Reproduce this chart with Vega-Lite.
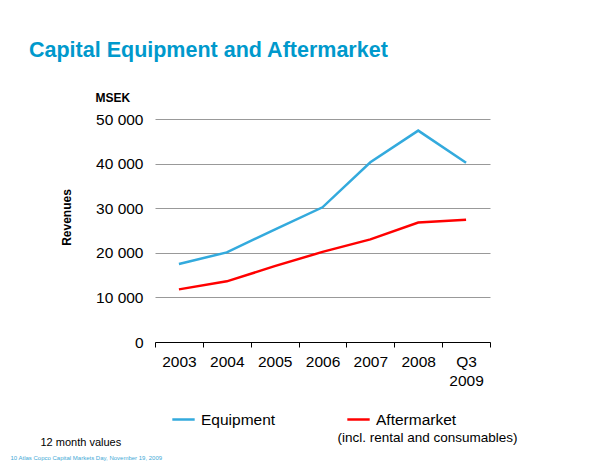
{
  "$schema": "https://vega.github.io/schema/vega-lite/v6.json",
  "width": 335,
  "height": 223,
  "autosize": {"type": "none"},
  "padding": {"left": 155, "top": 119, "right": 121, "bottom": 119},
  "background": "white",
  "title": {
    "text": "Capital Equipment and Aftermarket",
    "anchor": "start",
    "frame": "group",
    "dx": -126,
    "offset": 30,
    "font": "Liberation Sans",
    "fontSize": 21.5,
    "fontWeight": "bold",
    "color": "#0099CC"
  },
  "data": {
    "values": [
      {"period": "2003", "series": "Equipment", "value": 17500},
      {"period": "2004", "series": "Equipment", "value": 20100},
      {"period": "2005", "series": "Equipment", "value": 25200},
      {"period": "2006", "series": "Equipment", "value": 30200},
      {"period": "2007", "series": "Equipment", "value": 40300},
      {"period": "2008", "series": "Equipment", "value": 47400},
      {"period": "Q3 2009", "series": "Equipment", "value": 40200},
      {"period": "2003", "series": "Aftermarket", "value": 11800},
      {"period": "2004", "series": "Aftermarket", "value": 13600},
      {"period": "2005", "series": "Aftermarket", "value": 17000},
      {"period": "2006", "series": "Aftermarket", "value": 20200},
      {"period": "2007", "series": "Aftermarket", "value": 23000},
      {"period": "2008", "series": "Aftermarket", "value": 26800},
      {"period": "Q3 2009", "series": "Aftermarket", "value": 27400}
    ]
  },
  "layer": [
    {
      "mark": {"type": "line", "strokeWidth": 2.5},
      "encoding": {
        "x": {
          "field": "period",
          "type": "nominal",
          "sort": null,
          "axis": {
            "orient": "bottom",
            "labelAngle": 0,
            "labelExpr": "split(datum.label, ' ')",
            "labelFontSize": 15.5,
            "labelLineHeight": 19.5,
            "labelPadding": 7,
            "labelColor": "black",
            "domainColor": "black",
            "tickColor": "black",
            "tickSize": 5,
            "tickBand": "extent",
            "grid": false,
            "title": "12 month values",
            "titleFontSize": 11,
            "titleFontWeight": "normal",
            "titleAlign": "left",
            "titleBaseline": "alphabetic",
            "titleAnchor": null,
            "titleX": -115,
            "titleY": 103
          }
        },
        "y": {
          "field": "value",
          "type": "quantitative",
          "scale": {"domain": [0, 50000], "nice": false},
          "axis": {
            "orient": "left",
            "values": [0, 10000, 20000, 30000, 40000, 50000],
            "labelExpr": "replace(format(datum.value, ','), ',', ' ')",
            "labelFontSize": 15.5,
            "labelPadding": 12,
            "labelColor": "black",
            "domain": false,
            "ticks": false,
            "grid": true,
            "gridColor": "#999999",
            "gridWidth": 1,
            "title": "MSEK",
            "titleAngle": 0,
            "titleFontSize": 12,
            "titleFontWeight": "bold",
            "titleAlign": "left",
            "titleBaseline": "alphabetic",
            "titleAnchor": null,
            "titleX": -60,
            "titleY": -18
          }
        },
        "color": {
          "field": "series",
          "type": "nominal",
          "scale": {"domain": ["Equipment", "Aftermarket"], "range": ["#33AADD", "#FF0000"]},
          "legend": {
            "title": null,
            "orient": "none",
            "direction": "horizontal",
            "legendX": 16,
            "legendY": 288,
            "symbolType": "stroke",
            "symbolSize": 500,
            "symbolStrokeWidth": 2.5,
            "labelFontSize": 15.5,
            "labelColor": "black",
            "labelLimit": 300,
            "labelOffset": 5,
            "columnPadding": 66
          }
        }
      }
    },
    {
      "mark": {"type": "point", "opacity": 0},
      "encoding": {
        "x": {
          "field": "period",
          "type": "nominal",
          "sort": null,
          "axis": {
            "orient": "bottom",
            "labels": false,
            "ticks": false,
            "domain": false,
            "grid": false,
            "title": "10     Atlas Copco Capital Markets Day, November 19, 2009",
            "titleFontSize": 6,
            "titleFontWeight": "normal",
            "titleColor": "#3fa9d6",
            "titleAlign": "left",
            "titleBaseline": "alphabetic",
            "titleAnchor": null,
            "titleX": -145,
            "titleY": 117
          }
        },
        "y": {
          "field": "value",
          "type": "quantitative",
          "scale": {"domain": [0, 50000], "nice": false},
          "axis": {
            "orient": "left",
            "labels": false,
            "ticks": false,
            "domain": false,
            "grid": false,
            "title": "Revenues",
            "titleFontSize": 12,
            "titleFontWeight": "bold",
            "titleAngle": -90,
            "titleAlign": "center",
            "titleBaseline": "middle",
            "titleAnchor": null,
            "titleX": -89,
            "titleY": 98
          }
        }
      }
    },
    {
      "mark": {"type": "point", "opacity": 0},
      "encoding": {
        "x": {
          "field": "period",
          "type": "nominal",
          "sort": null,
          "axis": {
            "orient": "bottom",
            "labels": false,
            "ticks": false,
            "domain": false,
            "grid": false,
            "title": "(incl. rental and consumables)",
            "titleFontSize": 13.5,
            "titleFontWeight": "normal",
            "titleAlign": "center",
            "titleBaseline": "alphabetic",
            "titleAnchor": null,
            "titleX": 272,
            "titleY": 99
          }
        },
        "y": {
          "field": "value",
          "type": "quantitative",
          "scale": {"domain": [0, 50000], "nice": false},
          "axis": null
        }
      }
    }
  ],
  "resolve": {"axis": {"x": "independent", "y": "independent"}},
  "config": {
    "font": "Liberation Sans",
    "view": {"stroke": null},
    "axis": {"titleColor": "black", "labelFont": "Liberation Sans", "titleFont": "Liberation Sans"},
    "legend": {"labelFont": "Liberation Sans"}
  }
}
